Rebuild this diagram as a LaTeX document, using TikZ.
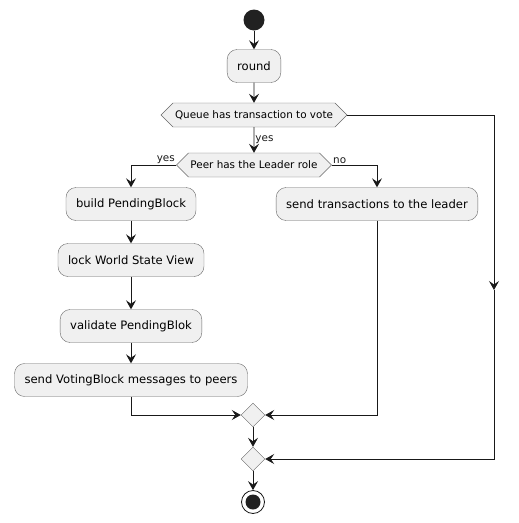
\documentclass[tikz,border=0pt]{standalone}
\usepackage{fontspec}
\setmainfont{DejaVu Sans}
\usetikzlibrary{arrows.meta}
\usetikzlibrary{positioning}
\usetikzlibrary{shapes}
\usetikzlibrary{shapes.geometric}
\usetikzlibrary{shapes.symbols}

\begin{document}
\begin{tikzpicture}[x=1pt,y=-1pt]
        \tikzset{action/.style = {shape=rectangle,rounded corners=10pt,draw=black!60,fill=black!6,minimum height=33pt,inner xsep=10pt,font=\fontsize{11.6}{13}\selectfont}}
        \tikzset{choice/.style = {shape=signal,signal to=west and east,draw=black!60,fill=black!6,minimum height=24pt,inner xsep=2pt,font=\fontsize{10.4}{12}\selectfont}}
        \tikzset{merge/.style = {shape=diamond,draw=black!60,fill=black!6,minimum size=24pt,inner sep=0pt}}
        \tikzset{flow_edge/.style = {->,> = {Stealth[length=9pt,width=10pt,inset=3.5pt]},line width=0.9pt,color=black!90}}
        \tikzset{branch_label/.style = {font=\fontsize{10.4}{12}\selectfont,inner sep=1pt}}

        \useasboundingbox (0,0) rectangle (519,523);

        \node[circle,fill=black!87,minimum size=21pt,inner sep=0pt] (start) at (254,20) {};
        \node[action] (round) at (254,66) {round};
        \node[choice] (queue) at (254,115) {Queue has transaction to vote};
        \node[choice] (peer) at (254,165) {Peer has the Leader role};
        \node[action] (build) at (131,204) {build PendingBlock};
        \node[action] (lock) at (131,260) {lock World State View};
        \node[action] (validate) at (131,326) {validate PendingBlok};
        \node[action] (sendvote) at (131,380) {send VotingBlock messages to peers};
        \node[action] (sendtx) at (377,204) {send transactions to the leader};
        \node[merge] (merge1) at (253,415) {};
        \node[merge] (merge2) at (253,459) {};
        \node[circle,draw=black!90,line width=0.8pt,fill=white,minimum size=23pt,inner sep=0pt] (stop) at (253,502) {};
        \node[circle,fill=black!87,minimum size=15pt,inner sep=0pt] at (stop) {};
        \coordinate (skip) at (494,290);

        \draw[flow_edge] (start) -- (round);
        \draw[flow_edge] (round) -- (queue);
        \draw[flow_edge] (queue) -- node[branch_label,right]{yes} (peer);
        \draw[flow_edge] (peer.west) -| node[branch_label,at start,above left]{yes} (build);
        \draw[flow_edge] (peer.east) -| node[branch_label,at start,above right]{no} (sendtx);
        \draw[flow_edge] (build) -- (lock);
        \draw[flow_edge] (lock) -- (validate);
        \draw[flow_edge] (validate) -- (sendvote);
        \draw[flow_edge] (sendvote) |- (merge1);
        \draw[flow_edge] (sendtx) |- (merge1);
        \draw[flow_edge] (merge1) -- (merge2);
        \draw[flow_edge] (queue.east) -| (skip);
        \draw[flow_edge] (skip) |- (merge2);
        \draw[flow_edge] (merge2) -- (stop);
    \end{tikzpicture}
\end{document}
